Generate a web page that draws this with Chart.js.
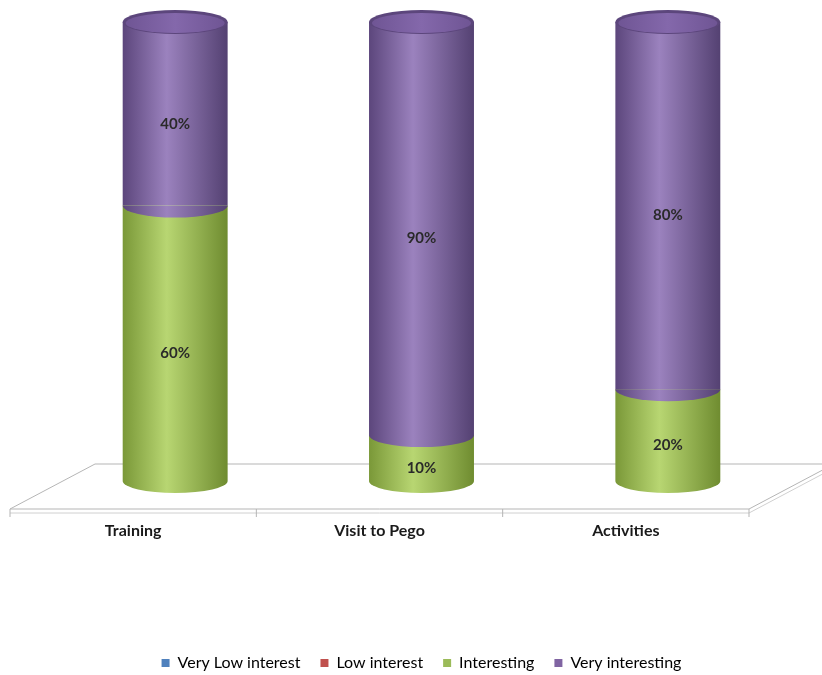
<!DOCTYPE html>
<html>
<head>
<meta charset="utf-8">
<script src="https://cdn.jsdelivr.net/npm/chart.js@4"></script>
<style>
  html, body { margin: 0; padding: 0; background: #fff; }
  #wrap { width: 822px; height: 675px; }
</style>
</head>
<body>
<div id="wrap"><canvas id="chart" width="822" height="675"></canvas></div>
<script>
const categories = ['Training', 'Visit to Pego', 'Activities'];
const veryLow = [0, 0, 0];
const low = [0, 0, 0];
const interesting = [60, 10, 20];
const veryInteresting = [40, 90, 80];

// cylinder shades: edge, light, edge
const shades = {
    blue: ['#3a6595', '#7fa7d8', '#345c8a'],
    red: ['#94393a', '#dc7a77', '#8a3535'],
    green: ['#7a9838', '#b8d672', '#6f8c30'],
    purple: ['#5c467c', '#9b82be', '#544172']
};

const ELL = 12;      // half height of the ellipses
const DEPTH_X = 42;  // floor perspective
const DEPTH_Y = 28;

function barHalf(chart) {
    return chart.scales.x.width / categories.length * 0.426 / 2;
}

function cylGradient(ctx, cx, half, s) {
    const g = ctx.createLinearGradient(cx - half, 0, cx + half, 0);
    g.addColorStop(0, s[0]);
    g.addColorStop(0.42, s[1]);
    g.addColorStop(1, s[2]);
    return g;
}

function fillFor(name) {
    return function (c) {
        const chart = c.chart;
        if (!chart.chartArea || !chart.scales.x) return shades[name][1];
        const cx = chart.scales.x.getPixelForValue(c.dataIndex);
        return cylGradient(chart.ctx, cx, barHalf(chart), shades[name]);
    };
}

const cylinderPlugin = {
    id: 'cylinders',
    beforeDatasetsDraw(chart) {
        // floor
        const ctx = chart.ctx;
        const x = chart.scales.x;
        const bottom = chart.chartArea.bottom;
        const fy = bottom + DEPTH_Y, by = bottom - 17;
        const fl = x.left - DEPTH_X, fr = x.right - DEPTH_X;
        const bl = x.left + 43, br = x.right + 43;
        ctx.save();
        ctx.fillStyle = '#ffffff';
        ctx.strokeStyle = '#b5b5b5';
        ctx.lineWidth = 1;
        ctx.beginPath();
        ctx.moveTo(fl, fy);
        ctx.lineTo(bl, by);
        ctx.lineTo(br, by);
        ctx.lineTo(fr, fy);
        ctx.closePath();
        ctx.fill();
        ctx.stroke();
        // front slab edge
        ctx.strokeStyle = '#d0d0d0';
        ctx.beginPath();
        ctx.moveTo(fl, fy + 4);
        ctx.lineTo(fr, fy + 4);
        ctx.lineTo(br, by + 4);
        ctx.stroke();
        // ticks
        ctx.strokeStyle = '#b5b5b5';
        const step = x.width / categories.length;
        for (let i = 0; i <= categories.length; i++) {
            const tx = x.left + i * step - DEPTH_X;
            ctx.beginPath();
            ctx.moveTo(tx, fy);
            ctx.lineTo(tx, fy + 8);
            ctx.stroke();
        }
        // category labels
        ctx.fillStyle = '#1a1a1a';
        ctx.font = 'bold 16px Lato';
        ctx.textAlign = 'center';
        ctx.textBaseline = 'middle';
        categories.forEach((lab, i) => {
            ctx.fillText(lab, x.getPixelForValue(i) - DEPTH_X, fy + 22);
        });
        ctx.restore();
    },
    afterDatasetsDraw(chart) {
        const ctx = chart.ctx;
        const names = ['blue', 'red', 'green', 'purple'];
        const half = barHalf(chart);
        const n = categories.length;
        ctx.save();
        for (let i = 0; i < n; i++) {
            let topEl = null;
            for (let d = 0; d < chart.data.datasets.length; d++) {
                const v = chart.data.datasets[d].data[i];
                if (!v) continue;
                const el = chart.getDatasetMeta(d).data[i];
                ctx.fillStyle = cylGradient(ctx, el.x, half, shades[names[d]]);
                ctx.beginPath();
                ctx.ellipse(el.x, el.base, half, ELL, 0, 0, Math.PI);
                ctx.fill();
                topEl = { el, d };
            }
            if (topEl) {
                const el = topEl.el;
                const s = shades[names[topEl.d]];
                ctx.fillStyle = s[0];
                ctx.beginPath();
                ctx.ellipse(el.x, el.y, half, ELL, 0, 0, Math.PI * 2);
                ctx.fill();
                const g = ctx.createLinearGradient(el.x - half, 0, el.x + half, 0);
                g.addColorStop(0, '#6e5493');
                g.addColorStop(0.5, '#8468ab');
                g.addColorStop(1, '#6e5493');
                ctx.fillStyle = g;
                ctx.beginPath();
                ctx.ellipse(el.x, el.y + 1, half - 3, ELL - 2, 0, 0, Math.PI * 2);
                ctx.fill();
            }
        }
        // data labels
        ctx.fillStyle = '#2a2a2a';
        ctx.font = 'bold 15px Lato';
        ctx.textAlign = 'center';
        ctx.textBaseline = 'middle';
        chart.data.datasets.forEach((ds, d) => {
            chart.getDatasetMeta(d).data.forEach((el, i) => {
                const v = ds.data[i];
                if (!v) return;
                ctx.fillText(v + '%', el.x, (el.y + el.base) / 2 + 10);
            });
        });
        ctx.restore();
    }
};

new Chart(document.getElementById('chart'), {
    type: 'bar',
    data: {
        labels: categories,
        datasets: [
            { label: 'Very Low interest', data: veryLow, backgroundColor: fillFor('blue'), legendColor: '#4f81bd' },
            { label: 'Low interest', data: low, backgroundColor: fillFor('red'), legendColor: '#c0504d' },
            { label: 'Interesting', data: interesting, backgroundColor: fillFor('green'), legendColor: '#9bbb59' },
            { label: 'Very interesting', data: veryInteresting, backgroundColor: fillFor('purple'), legendColor: '#8064a2' }
        ]
    },
    options: {
        responsive: false,
        animation: false,
        layout: { padding: { top: 22, left: 52, right: 31, bottom: -6 } },
        datasets: {
            bar: { barPercentage: 0.426, categoryPercentage: 1, borderWidth: 0 }
        },
        scales: {
            x: {
                stacked: true,
                grid: { display: false },
                border: { display: false },
                ticks: { display: false },
                afterFit(scale) { scale.height = 154; }
            },
            y: { stacked: true, display: false, min: 0, max: 100 }
        },
        plugins: {
            legend: {
                position: 'bottom',
                labels: {
                    font: { family: 'Lato', size: 16 },
                    color: '#222',
                    boxWidth: 8,
                    boxHeight: 8,
                    padding: 20,
                    generateLabels(chart) {
                        return chart.data.datasets.map((ds, i) => ({
                            text: ds.label,
                            fillStyle: ds.legendColor,
                            strokeStyle: ds.legendColor,
                            lineWidth: 0,
                            hidden: false,
                            datasetIndex: i
                        }));
                    }
                }
            },
            tooltip: { enabled: false }
        }
    },
    plugins: [cylinderPlugin]
});
</script>
</body>
</html>
